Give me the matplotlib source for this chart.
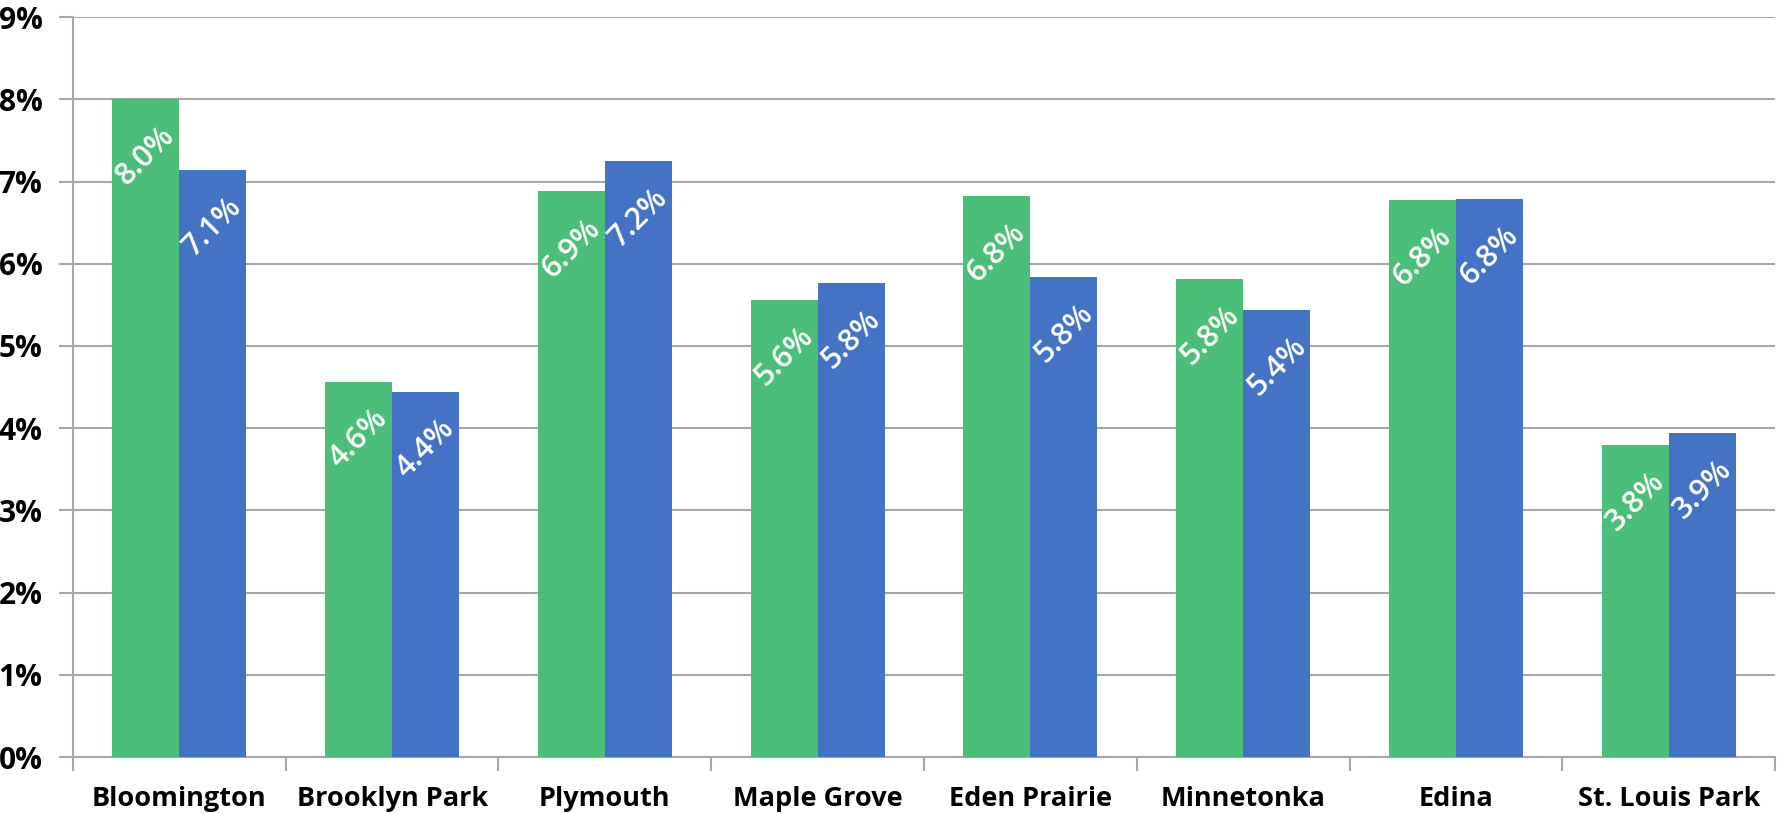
import matplotlib

matplotlib.use("Agg")

import matplotlib.pyplot as plt
import numpy as np
from matplotlib.ticker import FuncFormatter, FixedLocator

cities = ["Bloomington", "Brooklyn Park", "Plymouth", "Maple Grove",
          "Eden Prairie", "Minnetonka", "Edina", "St. Louis Park"]
green_vals = [8.0, 4.56, 6.88, 5.56, 6.82, 5.81, 6.78, 3.80]
blue_vals = [7.14, 4.44, 7.25, 5.77, 5.84, 5.44, 6.79, 3.94]

GREEN = "#4bbf79"
BLUE = "#4472c4"
GRID = "#a6a6a6"

plt.rcParams["font.family"] = ["Open Sans", "DejaVu Sans"]

fig = plt.figure(figsize=(17.79, 8.14), dpi=100)
ax = fig.add_axes([0.041, 0.070, 0.9568, 0.909])

x = np.arange(len(cities))
w = 0.315
gb = ax.bar(x - w / 2, green_vals, width=w, color=GREEN, zorder=3)
bb = ax.bar(x + w / 2, blue_vals, width=w, color=BLUE, zorder=3)

for bars, vals in ((gb, green_vals), (bb, blue_vals)):
    for rect, v in zip(bars, vals):
        ax.annotate(f"{v:.1f}%", (rect.get_x() + rect.get_width() / 2, v),
                    xytext=(0, -41), textcoords="offset points",
                    ha="center", va="center", rotation=45, rotation_mode="anchor",
                    color="white", fontsize=22, fontweight="semibold", zorder=4)

ax.set_xlim(-0.5, len(cities) - 0.5)
ax.set_ylim(0, 9)
ax.set_yticks(np.arange(0, 10, 1))
ax.yaxis.set_major_formatter(FuncFormatter(lambda v, _: f"{v:.0f}%"))
ax.grid(axis="y", color=GRID, linewidth=1.5, zorder=0)

ax.set_xticks(x)
ax.set_xticklabels(cities, fontsize=19.5, fontweight="bold")
ax.xaxis.set_minor_locator(FixedLocator(np.arange(-0.5, len(cities), 1)))
ax.tick_params(axis="x", which="major", length=0, pad=21)
ax.tick_params(axis="x", which="minor", length=10, width=1.5, color=GRID)
ax.tick_params(axis="y", length=10, width=1.5, color=GRID, pad=12, labelsize=21.5)
for lbl in ax.get_yticklabels():
    lbl.set_fontweight("bold")

for side in ("top", "right"):
    ax.spines[side].set_visible(False)
for side in ("left", "bottom"):
    ax.spines[side].set_color(GRID)
    ax.spines[side].set_linewidth(1.5)

fig.savefig("out.png", dpi=100)
